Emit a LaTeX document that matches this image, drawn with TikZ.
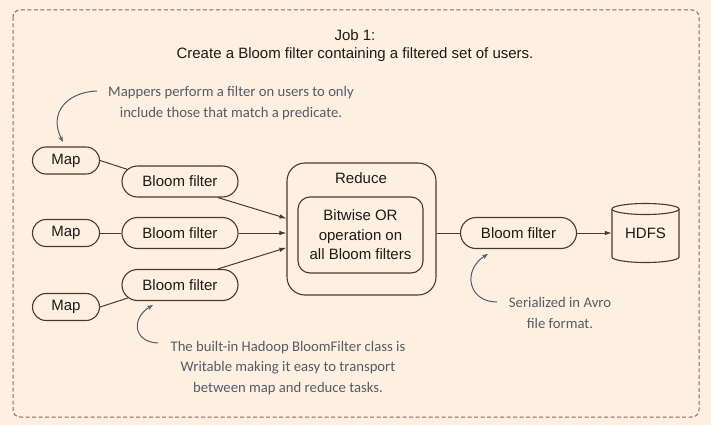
\documentclass[tikz,border=0pt]{standalone}
\usepackage{fontspec}
\setmainfont{Liberation Sans}
\newfontfamily\handfont{Carlito}
\usetikzlibrary{shapes.misc,arrows.meta}
\definecolor{bg}{HTML}{FEF0E0}
\definecolor{ln}{HTML}{4A3A28}
\definecolor{note}{HTML}{555B68}
\definecolor{frame}{HTML}{7A6E62}
\definecolor{txt}{HTML}{1E1A16}
\begin{document}
\begin{tikzpicture}[x=1pt,y=-1pt,
  mainfont/.style={font=\fontsize{15}{18}\selectfont, text=txt},
  pill/.style={rounded rectangle, draw=ln, line width=1.1pt, fill=bg, mainfont, inner sep=0pt},
  mapbox/.style={pill, minimum width=67pt, minimum height=27pt},
  bfbox/.style={pill, minimum width=116pt, minimum height=31pt},
  conn/.style={draw=ln, line width=1pt},
  arr/.style={conn, -{Latex[length=7pt,width=4.5pt]}},
  notearr/.style={draw=note, line width=1pt, -{Stealth[length=6pt,width=4.5pt]}},
  notetext/.style={text=note, font=\handfont\fontsize{14.7}{20.8}\selectfont, align=center, inner sep=0pt},
]
\fill[bg] (0,0) rectangle (711,425);
\useasboundingbox (0,0) rectangle (711,425);
\draw[frame, line width=1pt, rounded corners=7pt, dash pattern=on 4pt off 2.5pt] (13,10) rectangle (699,417);

\node[mainfont, align=center] (title) at (355,45.5) {Job 1:\\Create a Bloom filter containing a filtered set of users.};

% maps and bloom filters
\node[mapbox] (m1) at (66,160.5) {Map};
\node[mapbox] (m2) at (66,233) {Map};
\node[mapbox] (m3) at (66,307) {Map};
\node[bfbox] (b1) at (180,181.5) {Bloom filter};
\node[bfbox] (b2) at (180,233) {Bloom filter};
\node[bfbox] (b3) at (180,285) {Bloom filter};

% reduce
\node[draw=ln, line width=1.1pt, rounded corners=18pt, minimum width=149pt, minimum height=132pt, inner sep=0pt] (red) at (361.5,229) {};
\node[mainfont] (redlbl) at (361,178) {Reduce};
\node[draw=ln, line width=1.1pt, rounded corners=12pt, minimum width=125pt, minimum height=76pt, inner sep=0pt, mainfont, align=center, font=\fontsize{15}{19.5}\selectfont] (or) at (360.5,235) {Bitwise OR\\operation on\\all Bloom filters};

\node[bfbox] (b4) at (518.5,233) {Bloom filter};

% HDFS cylinder
\node[minimum width=67pt, minimum height=59pt, inner sep=0pt, mainfont] (hdfs) at (645.5,233) {HDFS};
\draw[ln, line width=1.1pt, fill=bg] (612,209) -- (612,257) arc[start angle=180, end angle=360, x radius=33.5pt, y radius=5.5pt] -- (679,209);
\draw[ln, line width=1.1pt, fill=bg] (645.5,209) ellipse [x radius=33.5pt, y radius=5.5pt];
\node[mainfont] at (hdfs) {HDFS};

% connectors
\draw[conn] (m1.east) -- (b1.167);
\draw[conn] (m2.east) -- (b2.west);
\draw[conn] (m3.east) -- (b3.194);
\draw[arr] (b1.-23) -- (red.172);
\draw[arr] (b2.east) -- (red.west |- b2.east);
\draw[arr] (b3.23) -- (red.194);
\draw[conn] (red.east |- b4.west) -- (b4.west);
\draw[arr] (b4.east) -- (hdfs.west);

% notes
\node[notetext] (n1) at (231,103) {Mappers perform a filter on users to only\\include those that match a predicate.};
\node[notetext] (n2) at (560,313) {Serialized in Avro\\file format.};
\node[notetext] (n3) at (288,368) {The built-in Hadoop BloomFilter class is\\Writable making it easy to transport\\between map and reduce tasks.};

\coordinate (n1s) at (97,91);
\coordinate (n1e) at (63,142);
\coordinate (n2s) at (497,302);
\coordinate (n2e) at (488,254);
\coordinate (n3s) at (158,343);
\coordinate (n3e) at (153,305);
\draw[notearr] (n1s) .. controls (68,92) and (48,112) .. (n1e);
\draw[notearr] (n2s) .. controls (468,302) and (462,270) .. (n2e);
\draw[notearr] (n3s) .. controls (133,342) and (131,318) .. (n3e);
\end{tikzpicture}
\end{document}
